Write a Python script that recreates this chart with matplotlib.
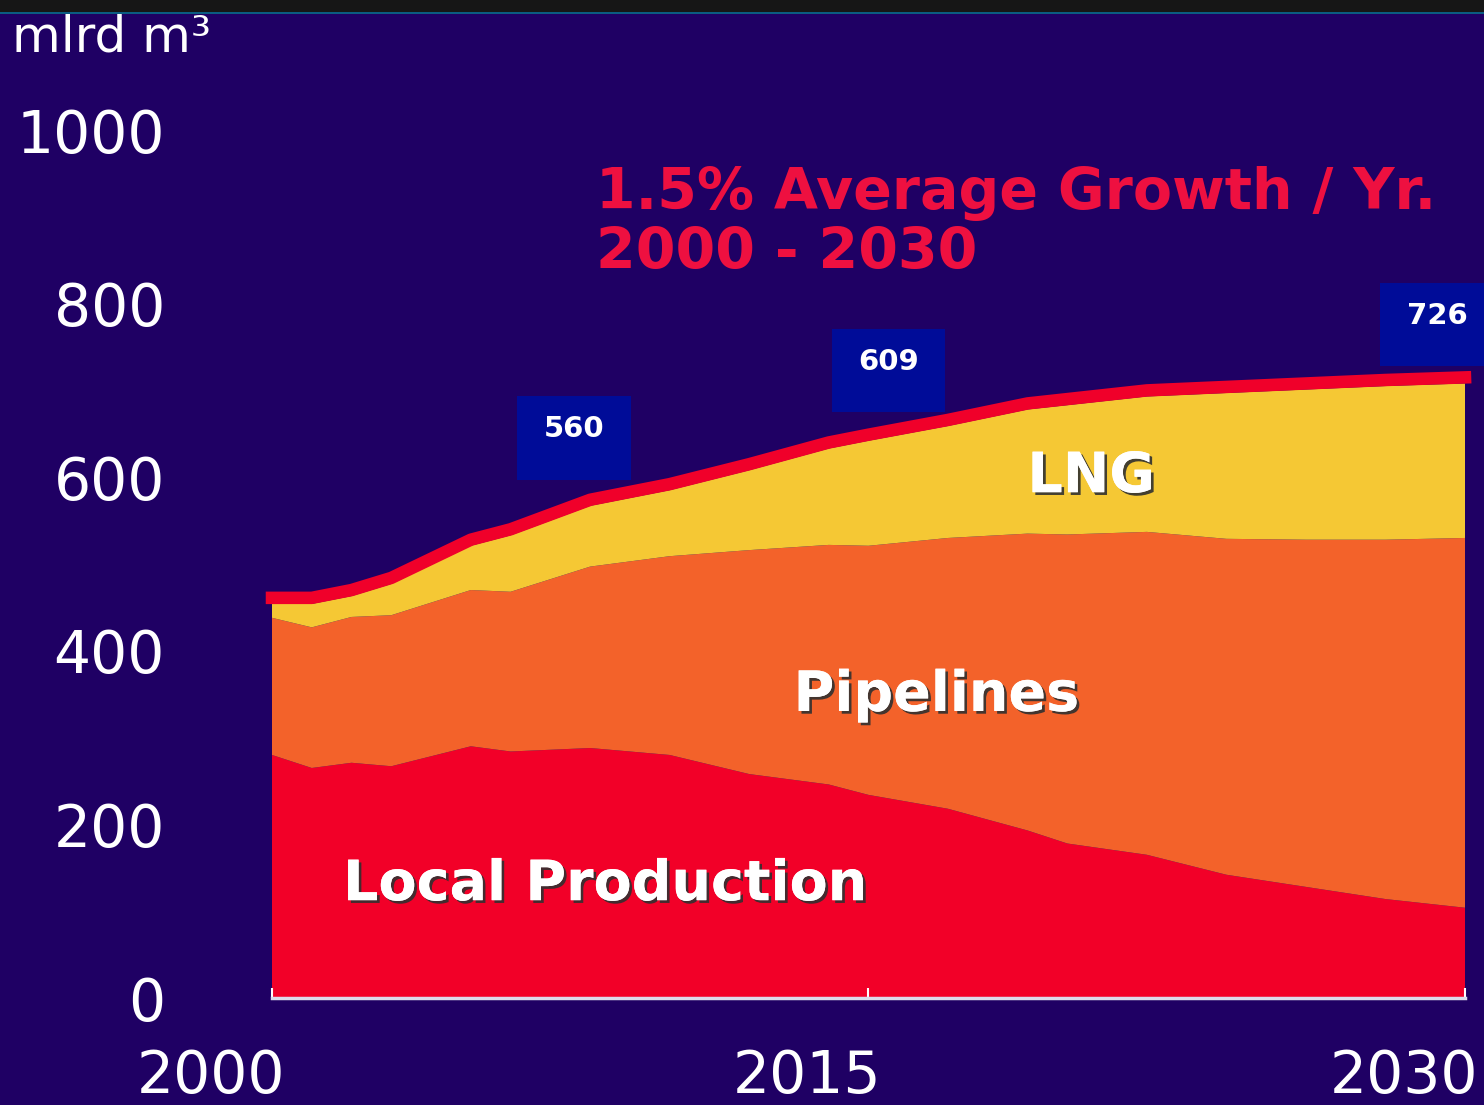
import numpy as np
import matplotlib
matplotlib.use("Agg")
import matplotlib.pyplot as plt
import matplotlib.patheffects as pe
from matplotlib.patches import Rectangle

# ================================================================================
# values (mlrd m3)
years = [2000, 2001, 2002, 2003, 2005, 2006, 2008, 2010, 2012, 2014, 2015,
         2017, 2019, 2020, 2022, 2024, 2026, 2028, 2030]
local_production = [280, 265, 271, 267, 290, 284, 288, 280, 258, 246, 234,
                    218, 193, 178, 165, 142, 128, 114, 104]
pipelines = [158, 162, 168, 174, 180, 184, 209, 229, 258, 276, 287,
             312, 342, 356, 372, 387, 400, 414, 426]
lng = [16, 27, 24, 36, 51, 65, 70, 76, 92, 111, 121,
       129, 143, 149, 156, 168, 173, 177, 178]
total_demand = [461, 461, 470, 484, 528, 540, 574, 592, 615, 640, 649,
                666, 685, 690, 700, 704, 708, 712, 715]

box_years = [2007.6, 2015.5, 2029.3]
box_values = [560, 609, 726]
box_levels = [645, 723, 776]

y_ticks = [0, 200, 400, 600, 800, 1000]
x_ticks = [2000, 2015, 2030]

# ================================================================================
bg = "#1f0064"
c_local = "#f20028"
c_pipe = "#f3622a"
c_lng = "#f5c834"
c_line = "#f0002a"
c_box = "#000c98"

plt.rcParams["font.family"] = ["DejaVu Sans"]

fig = plt.figure(figsize=(14.84, 11.05), dpi=100, facecolor=bg)
ax = fig.add_axes([272 / 1484, 1 - 998 / 1105, 1193 / 1484, 868 / 1105])
ax.set_facecolor(bg)

# top strip of the screenshot
fig.patches.append(Rectangle((0, 1 - 12 / 1105), 1, 12 / 1105, transform=fig.transFigure,
                             facecolor="#161616", edgecolor="none", zorder=0))
fig.patches.append(Rectangle((0, 1 - 14 / 1105), 1, 2 / 1105, transform=fig.transFigure,
                             facecolor="#0b5c82", edgecolor="none", zorder=0))

ax.stackplot(years, local_production, pipelines, lng,
             colors=[c_local, c_pipe, c_lng], linewidth=0)
ax.plot(years, total_demand, color=c_line, lw=9, solid_capstyle="projecting",
        clip_on=False, zorder=5)

ax.set_xlim(2000, 2030)
ax.set_ylim(0, 1000)

# ================================================================================
# axes styling
for s in ["top", "right", "left"]:
    ax.spines[s].set_visible(False)
ax.spines["bottom"].set_color("#dcdcec")
ax.spines["bottom"].set_linewidth(2.5)
ax.spines["bottom"].set_zorder(6)

ax.set_yticks(y_ticks)
ax.set_yticklabels([str(v) for v in y_ticks])
ax.tick_params(axis="y", length=0, pad=77, labelsize=42, labelcolor="white")

ax.set_xticks(x_ticks)
ax.set_xticklabels([])
ax.tick_params(axis="x", direction="in", length=7, width=1.5, color="white")
for yr in x_ticks:
    ax.annotate(str(yr), xy=(yr, 0), xycoords=("data", "axes fraction"),
                xytext=(13, -79), textcoords="offset pixels",
                ha="right", va="center", fontsize=42, color="white",
                annotation_clip=False)

fig.text(12 / 1484, 1 - 37 / 1105, "mlrd m³", fontsize=36, color="white",
         ha="left", va="center")

# ================================================================================
# texts
ax.text(2008.15, 892, "1.5% Average Growth / Yr.\n2000 - 2030", fontsize=41,
        fontweight="bold", color="#ee1040", ha="left", va="center",
        linespacing=1.12)

shadow = [pe.withSimplePatchShadow(offset=(2, -2), shadow_rgbFace="#303030", alpha=0.9),
          pe.Normal()]
ax.text(20.6 + 2000, 600, "LNG", fontsize=40, fontweight="bold", color="white",
        ha="center", va="center", path_effects=shadow)
ax.text(2016.7, 348, "Pipelines", fontsize=40, fontweight="bold", color="white",
        ha="center", va="center", path_effects=shadow)
ax.text(2008.37, 130, "Local Production", fontsize=40, fontweight="bold", color="white",
        ha="center", va="center", path_effects=shadow)

# value boxes
for bx, bv, bl in zip(box_years, box_values, box_levels):
    ax.add_patch(Rectangle((bx - 1.43, bl - 48), 2.86, 96, facecolor=c_box,
                           edgecolor="none", clip_on=False, zorder=4))
    ax.text(bx, bl + 10, str(bv), fontsize=21, fontweight="bold", color="white",
            ha="center", va="center", zorder=5, clip_on=False)

fig.savefig("out.png", dpi=100, facecolor=bg)
